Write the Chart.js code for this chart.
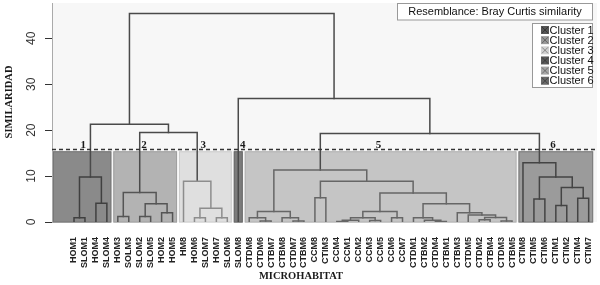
<!DOCTYPE html>
<html>
<head>
<meta charset="utf-8">
<script src="https://cdn.jsdelivr.net/npm/chart.js@4.4.1/dist/chart.umd.min.js"></script>
<style>
  html, body { margin: 0; padding: 0; background: #fff; }
</style>
</head>
<body>
<canvas id="dendro" width="600" height="285"></canvas>
<script>
// leaf order along the x axis
const leaves = [
  'HOM1', 'SLOM1', 'HOM4', 'SLOM4',
  'HOM3', 'SOLM3', 'SLOM2', 'SLOM5', 'HOM2', 'HOM5',
  'HM8', 'HOM6', 'SLOM7', 'HOM7', 'SLOM6',
  'SLOM8',
  'CTDM8', 'CTDM6', 'CTBM7', 'CTBM8', 'CTDM7', 'CTBM6', 'CCM8', 'CTIM3',
  'CCM4', 'CCM1', 'CCM2', 'CCM3', 'CCM5', 'CCM6', 'CCM7',
  'CTDM1', 'CTBM2', 'CTDM4', 'CTBM1', 'CTBM3', 'CTDM5', 'CTDM2', 'CTBM4', 'CTDM3', 'CTBM5',
  'CTIM8', 'CTIM5', 'CTIM6', 'CTIM1', 'CTIM2', 'CTIM4', 'CTIM7'
];

// clusters are runs of consecutive leaves
const clusterNames = ['Cluster 1', 'Cluster 2', 'Cluster 3', 'Cluster 4', 'Cluster 5', 'Cluster 6'];
const clusterSizes = [4, 6, 5, 1, 25, 7];
const cutLevel = 15.8;

// merges: a child is a leaf name or the index of an earlier merge
const merges = [
  ['HOM1', 'SLOM1'], ['HOM4', 'SLOM4'], [0, 1],                                   // 0-2
  ['HOM3', 'SOLM3'], ['SLOM2', 'SLOM5'], ['HOM2', 'HOM5'], [4, 5], [3, 6],          // 3-7
  ['HOM6', 'SLOM7'], ['HOM7', 'SLOM6'], [8, 9], ['HM8', 10],                        // 8-11
  [7, 11], [2, 12],                                                                // 12-13
  ['CTDM6', 'CTBM7'], ['CTDM8', 14], ['CTDM7', 'CTBM6'], ['CTBM8', 16], [15, 17],   // 14-18
  ['CCM8', 'CTIM3'],                                                               // 19
  ['CCM4', 'CCM1'], [20, 'CCM2'], ['CCM3', 'CCM5'], [21, 22], ['CCM6', 'CCM7'], [23, 24], // 20-25
  ['CTDM4', 'CTBM1'], ['CTBM2', 26], ['CTDM1', 27],                                // 26-28
  ['CTDM2', 'CTBM4'], ['CTDM3', 'CTBM5'], [29, 30], ['CTDM5', 31], ['CTBM3', 32],   // 29-33
  [28, 33], [25, 34], [19, 35], [18, 36],                                          // 34-37
  ['CTIM5', 'CTIM6'], ['CTIM1', 'CTIM2'], ['CTIM4', 'CTIM7'], [39, 40], [38, 41], ['CTIM8', 42], // 38-43
  [37, 43], ['SLOM8', 44], [13, 45]                                                // 44-46
];
const mergeHeights = [
  0.9, 4.1, 9.8,
  1.2, 1.2, 2.0, 4.0, 6.4,
  0.9, 0.9, 3.0, 8.9,
  19.5, 21.3,
  0.2, 0.9, 0.2, 0.9, 2.3,
  5.3,
  0.1, 0.4, 0.3, 0.9, 0.9, 2.3,
  0.1, 0.4, 0.9,
  0.5, 0.2, 1.0, 1.5, 2.0,
  4.0, 6.3, 8.9, 11.3,
  5.0, 3.6, 5.2, 7.5, 9.8, 12.9,
  19.3, 26.9, 45.4
];
const yTicks = [0, 10, 20, 30, 40];

// styles
const boxFill = ['#8a8a8a', '#b3b3b3', '#dfdfdf', '#7c7c7c', '#c5c5c5', '#9b9b9b'];
const boxEdge = ['#777', '#a0a0a0', '#cdcdcd', '#6a6a6a', '#b2b2b2', '#7a7a7a'];
const lineColor = ['#404040', '#555', '#8d8d8d', '#555', '#666', '#444'];
const iconFill = ['#555', '#999', '#d2d2d2', '#5a5a5a', '#a8a8a8', '#6a6a6a'];
const tagAt = [0.85, 6.4, 11.8, 15.4, 27.8, 43.75];

// which cluster each leaf is in
const leafCluster = [];
clusterSizes.forEach((n, c) => { for (let i = 0; i < n; i++) leafCluster.push(c); });

// build node positions from the leaf order
const leafNode = {};
leaves.forEach((l, i) => leafNode[l] = { x: i, h: 0, first: i });
const nodes = [];
const getNode = ref => typeof ref === 'number' ? nodes[ref] : leafNode[ref];
merges.forEach((m, k) => {
  const a = getNode(m[0]), b = getNode(m[1]);
  nodes.push({ x: (a.x + b.x) / 2, h: mergeHeights[k], a, b, first: Math.min(a.first, b.first) });
});

const datasets = nodes.map(n => ({
  data: [
    { x: n.a.x, y: n.a.h }, { x: n.a.x, y: n.h },
    { x: n.b.x, y: n.h }, { x: n.b.x, y: n.b.h }
  ],
  showLine: true,
  borderColor: n.h < cutLevel ? lineColor[leafCluster[n.first]] : '#4a4a4a',
  borderWidth: 1.5,
  borderCapStyle: 'square',
  pointRadius: 0,
  tension: 0,
  fill: false
}));

const decor = {
  id: 'decor',
  beforeDraw(chart) {
    const { ctx, chartArea: a } = chart;
    ctx.save();
    ctx.fillStyle = '#fff';
    ctx.fillRect(0, 0, chart.width, chart.height);
    ctx.fillStyle = '#f7f7f7';
    ctx.fillRect(a.left, a.top, a.right - a.left, a.bottom - a.top);
    ctx.restore();
  },
  beforeDatasetsDraw(chart) {
    const { ctx, chartArea: a, scales: { x, y } } = chart;
    ctx.save();
    let start = 0;
    clusterSizes.forEach((n, c) => {
      const l = c === 0 ? a.left + 1 : x.getPixelForValue(start - 0.5) + 1;
      const r = x.getPixelForValue(start + n - 0.5) - 1;
      const t = y.getPixelForValue(cutLevel - 0.4);
      const b = y.getPixelForValue(0) + 0.5;
      ctx.fillStyle = boxFill[c];
      ctx.fillRect(l, t, r - l, b - t);
      ctx.strokeStyle = boxEdge[c];
      ctx.lineWidth = 1;
      ctx.strokeRect(l + 0.5, t + 0.5, r - l - 1, b - t - 1);
      start += n;
    });
    ctx.restore();
  },
  afterDatasetsDraw(chart) {
    const { ctx, chartArea: a, scales: { x, y } } = chart;
    ctx.save();
    const cy = Math.round(y.getPixelForValue(cutLevel)) + 0.5;
    ctx.strokeStyle = '#333';
    ctx.lineWidth = 1.3;
    ctx.setLineDash([4, 3]);
    ctx.beginPath();
    ctx.moveTo(a.left, cy);
    ctx.lineTo(a.right, cy);
    ctx.stroke();
    ctx.setLineDash([]);
    ctx.fillStyle = '#1a1a1a';
    ctx.font = 'bold 11px "Liberation Serif", serif';
    ctx.textAlign = 'center';
    ctx.textBaseline = 'alphabetic';
    tagAt.forEach((v, c) => ctx.fillText(String(c + 1), x.getPixelForValue(v), cy - 2));
    ctx.restore();
  },
  afterDraw(chart) {
    const { ctx, scales: { y } } = chart;
    ctx.save();
    // y tick labels, rotated
    ctx.fillStyle = '#333';
    ctx.font = '12px "Liberation Sans", Arial, sans-serif';
    ctx.textAlign = 'center';
    ctx.textBaseline = 'middle';
    yTicks.forEach(v => {
      ctx.save();
      ctx.translate(31.5, y.getPixelForValue(v));
      ctx.rotate(-Math.PI / 2);
      ctx.fillText(String(v), 0, 0);
      ctx.restore();
    });
    // axis titles
    ctx.fillStyle = '#1a1a1a';
    ctx.font = 'bold 10.5px "Liberation Serif", serif';
    ctx.save();
    ctx.translate(9, 102);
    ctx.rotate(-Math.PI / 2);
    ctx.fillText('SIMILARIDAD', 0, 0);
    ctx.restore();
    ctx.fillText('MICROHABITAT', 301, 276);
    // resemblance box
    ctx.fillStyle = '#fff';
    ctx.fillRect(397.5, 3.5, 195, 16.5);
    ctx.strokeStyle = '#999';
    ctx.lineWidth = 1;
    ctx.strokeRect(397.5, 3.5, 195, 16.5);
    ctx.fillStyle = '#111';
    ctx.font = '11px "Liberation Sans", Arial, sans-serif';
    ctx.fillText('Resemblance: Bray Curtis similarity', 495, 12.2);
    // cluster legend
    ctx.fillStyle = '#fff';
    ctx.fillRect(532.5, 23.5, 60, 64);
    ctx.strokeStyle = '#999';
    ctx.strokeRect(532.5, 23.5, 60, 64);
    ctx.textAlign = 'left';
    clusterNames.forEach((name, c) => {
      const cy = 30 + c * 10.15;
      ctx.fillStyle = iconFill[c];
      ctx.fillRect(541, cy - 4, 8, 8);
      ctx.strokeStyle = 'rgba(0,0,0,0.35)';
      ctx.beginPath();
      ctx.moveTo(542, cy - 3); ctx.lineTo(548, cy + 3);
      ctx.moveTo(548, cy - 3); ctx.lineTo(542, cy + 3);
      ctx.stroke();
      ctx.fillStyle = '#111';
      ctx.fillText(name, 549.5, cy + 0.5);
    });
    ctx.restore();
  }
};

new Chart(document.getElementById('dendro'), {
  type: 'scatter',
  data: { datasets },
  options: {
    responsive: false,
    devicePixelRatio: 1,
    animation: false,
    layout: { padding: { top: 3, right: 3 } },
    plugins: { legend: { display: false }, tooltip: { enabled: false } },
    scales: {
      x: {
        type: 'linear',
        min: -2.01,
        max: 47.76,
        afterBuildTicks: s => { s.ticks = leaves.map((_, i) => ({ value: i })); },
        afterFit: s => { s.height = 63; s.paddingLeft = 0; s.paddingRight = 0; },
        grid: { display: false },
        border: { display: false },
        ticks: {
          autoSkip: false,
          minRotation: 90,
          maxRotation: 90,
          padding: 7,
          color: '#222',
          font: { family: '"Liberation Sans", Arial, sans-serif', size: 9, weight: 'bold' },
          callback: v => leaves[v]
        }
      },
      y: {
        type: 'linear',
        min: 0,
        max: 47.7,
        afterBuildTicks: s => { s.ticks = yTicks.map(v => ({ value: v })); },
        afterFit: s => { s.width = 52; s.paddingTop = 0; s.paddingBottom = 0; },
        ticks: { display: false },
        grid: { drawOnChartArea: false, drawTicks: true, tickLength: 7, color: '#333' },
        border: { color: '#aaa' }
      }
    }
  },
  plugins: [decor]
});
</script>
</body>
</html>
